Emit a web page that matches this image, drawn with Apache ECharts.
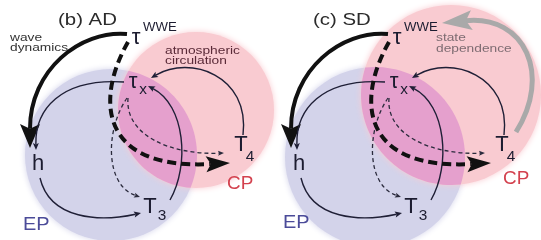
<!DOCTYPE html>
<html>
<head>
<meta charset="utf-8">
<script src="https://cdn.jsdelivr.net/npm/echarts@6/dist/echarts.min.js"></script>
<style>
  html, body { margin: 0; background: #fff; }
  #main { width: 541px; height: 240px; }
</style>
</head>
<body>
<div id="main"></div>
<script>
// diagram units = pixels, y goes down (yAxis inverse)
const panelTitles = ['(b) AD', '(c) SD'];
const panelTitleX = [58, 313];
const panelShift = [0, 261];

// regions [cx, cy, r] per panel
const epCircles = [[111, 155, 86], [375, 157, 90]];
const cpCircles = [[196, 110, 78], [451, 95, 90]];
const epLabel = [[23, 225], [283, 223]];
const cpLabel = [[227, 184], [503, 179]];

// nodes of panel (b), panel (c) is shifted by panelShift
const nodeText = ['τ', 'τ', 'h', 'T', 'T'];
const nodeX = [136, 133, 38, 150, 241];
const nodeY = [38, 82, 164, 207, 145];
const subText = ['WWE', 'x', '', '3', '4'];
const subX = [143, 143, 0, 162, 250];
const subY = [28, 90, 0, 216, 157];

// arrows of panel (b), cubic curves: x0,y0, cx1,cy1, cx2,cy2, x1,y1
const arrowKind = ['wave', 'solid', 'solid', 'solid', 'solid', 'dash', 'dash', 'wwe'];
const arrowCurves = [
  [127, 34, 80, 30, 30, 70, 30, 148],       // wave dynamics: tau_wwe -> h
  [124, 82, 60, 78, 35, 110, 36, 150],      // tau_x -> h
  [40, 178, 50, 220, 100, 222, 141, 213],   // h -> T3
  [170, 200, 190, 165, 185, 105, 148, 86],  // T3 -> tau_x
  [243, 135, 250, 75, 190, 55, 151, 78],    // T4 -> tau_x
  [128, 98, 125, 135, 170, 155, 224, 153],  // tau_x -> T4
  [127, 98, 105, 130, 105, 185, 140, 197],  // tau_x -> T3
  [128, 42, 95, 100, 100, 170, 230, 163]    // tau_wwe -> T4
];
// grey "state dependence" arrow, panel (c) only
const stateCurve = [516, 132, 552, 75, 525, 15, 442, 23];

const notes = ['wave', 'dynamics', 'atmospheric', 'circulation', 'state', 'dependence'];
const noteX = [10, 10, 165, 165, 436, 436];
const noteY = [38, 48, 51, 61, 38, 49];

const arrowStyle = {
  wave: { color: '#111', width: 4, dash: null, head: [24, 20] },
  solid: { color: '#1f1f36', width: 1.4, dash: null, head: [7, 6] },
  dash: { color: '#2a2a3c', width: 1.3, dash: [4, 3], head: [6, 5] },
  wwe: { color: '#111', width: 4, dash: [9, 5], head: [24, 16] },
  state: { color: '#a9a9a9', width: 5, dash: null, head: [30, 20] }
};
const noteColor = ['#333', '#333', '#5a2a38', '#5a2a38', '#7e6c72', '#7e6c72'];

function drawArrow(p, st) {
  const tx = p[3][0] - p[2][0], ty = p[3][1] - p[2][1];
  const len = Math.hypot(tx, ty);
  const ux = tx / len, uy = ty / len;
  const L = st.head[0], W = st.head[1];
  const bx = p[3][0] - ux * L * 0.8, by = p[3][1] - uy * L * 0.8;
  const hx = p[3][0] - ux * L, hy = p[3][1] - uy * L;
  return {
    type: 'group',
    children: [
      {
        type: 'bezierCurve',
        shape: { x1: p[0][0], y1: p[0][1], cpx1: p[1][0], cpy1: p[1][1], cpx2: p[2][0], cpy2: p[2][1], x2: bx, y2: by },
        style: { stroke: st.color, lineWidth: st.width, lineDash: st.dash, fill: null }
      },
      {
        type: 'polygon',
        shape: { points: [p[3], [hx - uy * W / 2, hy + ux * W / 2], [bx, by], [hx + uy * W / 2, hy - ux * W / 2]] },
        style: { fill: st.color }
      }
    ]
  };
}

function curvePoints(api) {
  return [0, 1, 2, 3].map(i => api.coord([api.value(2 * i), api.value(2 * i + 1)]));
}

// lens of two circles, sampled as polygon
function lensPoints(c1, c2) {
  const dx = c2[0] - c1[0], dy = c2[1] - c1[1];
  const d = Math.hypot(dx, dy);
  const a = (c1[2] * c1[2] - c2[2] * c2[2] + d * d) / (2 * d);
  const phi = Math.atan2(dy, dx), psi = Math.atan2(-dy, -dx);
  const al = Math.acos(a / c1[2]), be = Math.acos((d - a) / c2[2]);
  const pts = [];
  for (let i = 0; i <= 40; i++) {
    const t = phi - al + 2 * al * i / 40;
    pts.push([c1[0] + c1[2] * Math.cos(t), c1[1] + c1[2] * Math.sin(t)]);
  }
  for (let i = 0; i <= 40; i++) {
    const t = psi - be + 2 * be * i / 40;
    pts.push([c2[0] + c2[2] * Math.cos(t), c2[1] + c2[2] * Math.sin(t)]);
  }
  return pts;
}

const regionData = [0, 1].map(i => epCircles[i].concat(cpCircles[i]));
const arrowData = [];
panelShift.forEach(s => arrowCurves.forEach(c => arrowData.push(c.map((v, j) => j % 2 ? v : v + s))));
const nodeData = [];
panelShift.forEach(s => nodeX.forEach((x, i) => nodeData.push([x + s, nodeY[i]])));
const subData = [];
panelShift.forEach(s => subX.forEach((x, i) => subData.push([x + s, subY[i]])));
const noteShow = [1, 1, 1, 1, 0, 0];

const chart = echarts.init(document.getElementById('main'));
chart.setOption({
  animation: false,
  grid: { left: 0, right: 0, top: 0, bottom: 0 },
  xAxis: { type: 'value', min: 0, max: 541, show: false },
  yAxis: { type: 'value', min: 0, max: 240, inverse: true, show: false },
  series: [
    {
      type: 'custom',
      data: regionData,
      renderItem: function (params, api) {
        const ep = api.coord([api.value(0), api.value(1)]);
        const cp = api.coord([api.value(3), api.value(4)]);
        const re = api.size([api.value(2), 0])[0], rc = api.size([api.value(5), 0])[0];
        const lens = lensPoints([ep[0], ep[1], re], [cp[0], cp[1], rc]);
        return {
          type: 'group',
          children: [
            { type: 'circle', shape: { cx: ep[0], cy: ep[1], r: re }, style: { fill: '#d3d3ea', shadowBlur: 6, shadowColor: '#d3d3ea' } },
            { type: 'circle', shape: { cx: cp[0], cy: cp[1], r: rc }, style: { fill: '#f9cbd1', shadowBlur: 6, shadowColor: '#f9cbd1' } },
            { type: 'polygon', shape: { points: lens }, style: { fill: '#e5a0cd' } }
          ]
        };
      }
    },
    {
      type: 'custom',
      data: [stateCurve],
      renderItem: function (params, api) {
        return drawArrow(curvePoints(api), arrowStyle.state);
      }
    },
    {
      type: 'custom',
      data: arrowData,
      renderItem: function (params, api) {
        const k = params.dataIndex % arrowCurves.length;
        return drawArrow(curvePoints(api), arrowStyle[arrowKind[k]]);
      }
    },
    {
      type: 'custom',
      data: nodeData,
      renderItem: function (params, api) {
        const k = params.dataIndex % nodeText.length;
        const p = api.coord([api.value(0), api.value(1)]);
        return {
          type: 'text', x: p[0], y: p[1],
          style: { text: nodeText[k], fontSize: 22, fontFamily: 'Liberation Sans', fill: '#1c1c30', align: 'center', verticalAlign: 'middle' }
        };
      }
    },
    {
      type: 'custom',
      data: subData,
      renderItem: function (params, api) {
        const k = params.dataIndex % subText.length;
        const p = api.coord([api.value(0), api.value(1)]);
        return {
          type: 'text', x: p[0], y: p[1], scaleX: 1.1,
          style: { text: subText[k], fontSize: k === 0 ? 12 : 14, fontFamily: 'Liberation Sans', fill: '#1c1c30', align: k === 0 ? 'left' : 'center', verticalAlign: 'middle' }
        };
      }
    },
    {
      type: 'custom',
      data: notes.map((n, i) => [noteX[i], noteY[i]]),
      renderItem: function (params, api) {
        const k = params.dataIndex;
        const p = api.coord([api.value(0), api.value(1)]);
        return {
          type: 'text', x: p[0], y: p[1], scaleX: 1.25,
          style: { text: notes[k], fontSize: 11, fontFamily: 'Liberation Sans', fill: noteColor[k], align: 'left', verticalAlign: 'middle' }
        };
      }
    },
    {
      type: 'custom',
      data: panelTitleX.map(x => [x, 20]),
      renderItem: function (params, api) {
        const p = api.coord([api.value(0), api.value(1)]);
        return {
          type: 'text', x: p[0], y: p[1], scaleX: 1.2,
          style: { text: panelTitles[params.dataIndex], fontSize: 17, fontFamily: 'Liberation Sans', fill: '#2b2b2b', align: 'left', verticalAlign: 'middle' }
        };
      }
    },
    {
      type: 'custom',
      data: epLabel.concat(cpLabel),
      renderItem: function (params, api) {
        const isCP = params.dataIndex >= 2;
        const p = api.coord([api.value(0), api.value(1)]);
        return {
          type: 'text', x: p[0], y: p[1], scaleX: 1.05,
          style: { text: isCP ? 'CP' : 'EP', fontSize: isCP ? 18 : 19, fontFamily: 'Liberation Sans', fill: isCP ? '#d3414e' : '#4b4b99', align: 'left', verticalAlign: 'middle' }
        };
      }
    }
  ]
});
</script>
</body>
</html>
